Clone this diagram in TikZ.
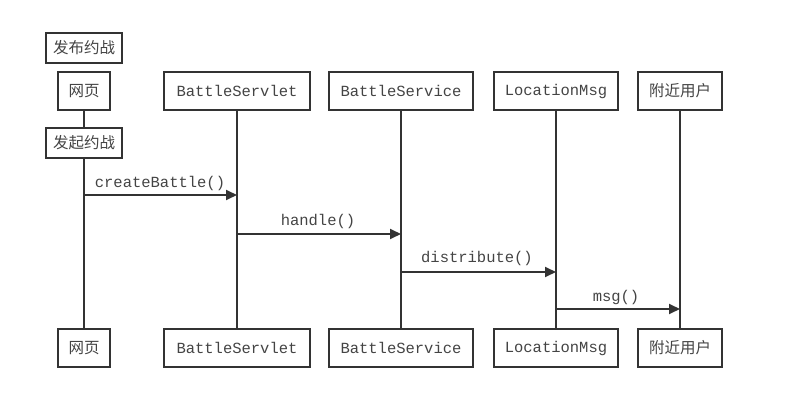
\documentclass[tikz,border=0pt]{standalone}
\usepackage{fontspec}
\newfontfamily\cjk{Noto Sans CJK SC}
\newfontfamily\mono{Liberation Mono}
\usetikzlibrary{arrows.meta}
\definecolor{ln}{HTML}{333333}
\definecolor{tx}{HTML}{444444}
\begin{document}
\begin{tikzpicture}[x=1pt,y=-1pt,
  actor/.style={draw=ln,line width=1.8pt,fill=white,minimum height=38pt,inner sep=0pt,text=tx},
  note/.style={draw=ln,line width=1.8pt,fill=white,minimum height=30pt,minimum width=76pt,inner sep=0pt,text=tx,font=\cjk\fontsize{15.5}{18}\selectfont},
  cn/.style={font=\cjk\fontsize{15.5}{18}\selectfont},
  mn/.style={font=\mono\fontsize{15.5}{18}\selectfont},
  life/.style={draw=ln,line width=1.8pt},
  msgarrow/.style={draw=ln,line width=1.8pt,-{Triangle[length=11pt,width=10pt]}},
  lbl/.style={text=tx,font=\mono\fontsize{15.5}{18}\selectfont,inner sep=0pt}]
\useasboundingbox (0,0) rectangle (788,401);
% top actors
\node[note] (title) at (84,48) {发布约战};
\node[actor,cn,minimum width=52pt] (t1) at (84,91) {网页};
\node[actor,mn,minimum width=146pt] (t2) at (237,91) {BattleServlet};
\node[actor,mn,minimum width=144pt] (t3) at (401,91) {BattleService};
\node[actor,mn,minimum width=124pt] (t4) at (556,91) {LocationMsg};
\node[actor,cn,minimum width=84pt] (t5) at (680,91) {附近用户};
% bottom actors
\node[actor,cn,minimum width=52pt] (b1) at (84,348) {网页};
\node[actor,mn,minimum width=146pt] (b2) at (237,348) {BattleServlet};
\node[actor,mn,minimum width=144pt] (b3) at (401,348) {BattleService};
\node[actor,mn,minimum width=124pt] (b4) at (556,348) {LocationMsg};
\node[actor,cn,minimum width=84pt] (b5) at (680,348) {附近用户};
% note on lifeline
\node[note] (start) at (84,143) {发起约战};
% lifelines
\draw[life] (t1.south) -- (start.north);
\draw[life] (start.south) -- (b1.north);
\draw[life] (t2.south) -- (b2.north);
\draw[life] (t3.south) -- (b3.north);
\draw[life] (t4.south) -- (b4.north);
\draw[life] (t5.south) -- (b5.north);
% message anchor points
\coordinate (m1s) at (84,195);  \coordinate (m1e) at (237,195);
\coordinate (m2s) at (237,234); \coordinate (m2e) at (401,234);
\coordinate (m3s) at (401,272); \coordinate (m3e) at (556,272);
\coordinate (m4s) at (556,309); \coordinate (m4e) at (680,309);
\draw[msgarrow] (m1s) -- (m1e);
\draw[msgarrow] (m2s) -- (m2e);
\draw[msgarrow] (m3s) -- (m3e);
\draw[msgarrow] (m4s) -- (m4e);
\node[lbl] (l1) at (160,183) {createBattle()};
\node[lbl] (l2) at (318,221) {handle()};
\node[lbl] (l3) at (477,258) {distribute()};
\node[lbl] (l4) at (616,297) {msg()};
\end{tikzpicture}
\end{document}
